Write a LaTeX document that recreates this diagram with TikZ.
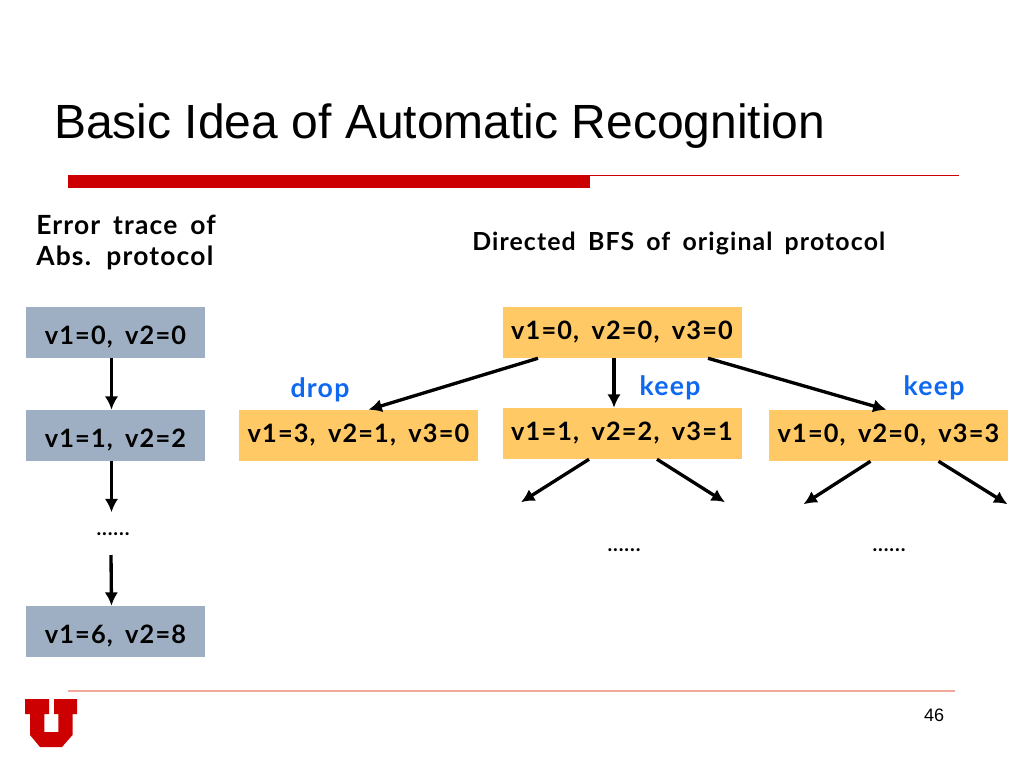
\documentclass[tikz,border=0pt]{standalone}
\usepackage{fontspec}
\setmainfont{Liberation Sans}
\newfontfamily\boxfont{Lato Bold}[LetterSpace=4.5,WordSpace=1.7]
\usetikzlibrary{calc,arrows.meta}
\definecolor{utahred}{RGB}{204, 0, 0}
\definecolor{utahpink}{RGB}{240, 170, 155}
\definecolor{tracegray}{RGB}{159, 175, 195}
\definecolor{bfsorange}{RGB}{255, 201, 102}
\definecolor{actionblue}{RGB}{15, 105, 240}
\tikzset{
  tracebox/.style={fill=tracegray, minimum width=134.25pt, minimum height=38.25pt, inner sep=0pt, text height=17.5pt, text depth=0pt, font=\boxfont\fontsize{19}{22}\selectfont},
  bfsbox/.style={fill=bfsorange, minimum width=179.25pt, minimum height=38.25pt, inner sep=0pt, font=\boxfont\fontsize{19}{22}\selectfont},
  edge/.style={-{Latex[length=10pt,width=10pt]}, line width=2.5pt},
  action/.style={text=actionblue, font=\boxfont\fontsize{20}{23}\selectfont},
  heading/.style={font=\boxfont\fontsize{19.8}{22}\selectfont, anchor=west, inner sep=0pt},
  dots/.style={font=\boxfont\fontsize{15}{18}\selectfont, inner sep=0pt}
}
\begin{document}
\begin{tikzpicture}[x=0.75pt, y=-0.75pt]
        \useasboundingbox (0,0) rectangle (1024,768);
        % title and rules
        \node[anchor=base west, inner sep=0pt, font=\fontsize{36}{40}\selectfont] (title) at (54,138) {Basic Idea of Automatic Recognition};
        \fill[utahred] (68,175) rectangle (590,188);
        \draw[utahred, line width=0.7pt] (590,175.5) -- (959,175.5);
        \draw[utahpink, line width=0.8pt] (68,691) -- (955,691);

        % headings
        \node[heading] (errora) at (36,225) {Error trace of};
        \node[heading] (errorb) at (36,258) {Abs. protocol};
        \node[heading, font=\boxfont\fontsize{18.65}{22}\selectfont] (bfshead) at (472,244) {Directed BFS of original protocol};

        % error trace
        \node[tracebox] (ta) at (115.5,332.5) {v1=0, v2=0};
        \node[tracebox] (tb) at (115.5,435.5) {v1=1, v2=2};
        \node[dots] (tdots) at (113,534) {......};
        \node[tracebox] (tc) at (115.5,631.5) {v1=6, v2=8};
        \draw[edge] ($(ta.south)+(-4,0)$) -- ($(tb.north)+(-4,0)$);
        \draw[edge] ($(tb.south)+(-4,0)$) -- ($(tb.south)+(-4,51)$);
        \draw[edge] ($(tdots.center)+(-2,21)$) -- ($(tc.north)+(-4,0)$);

        % BFS tree
        \node[bfsbox] (root) at (622,332.5) {v1=0, v2=0, v3=0};
        \node[bfsbox] (left) at (358.5,435.5) {v1=3, v2=1, v3=0};
        \node[bfsbox] (mid) at (622,433.5) {v1=1, v2=2, v3=1};
        \node[bfsbox] (right) at (888.5,435.5) {v1=0, v2=0, v3=3};
        \draw[edge] ($(root.south)+(-84,0)$) -- ($(left.north)+(10,0)$);
        \draw[edge] ($(root.south)+(-8,0)$) -- ($(mid.north)+(-8,0)$);
        \draw[edge] ($(root.south)+(86,0)$) -- ($(right.north)+(-2,0)$);

        % open branches
        \foreach \n/\a/\b/\c/\d in {mid/-33/-101/35/103, right/-18/-85/50/119} {
          \coordinate (\n L) at ($(\n.south)+(\b,43)$);
          \coordinate (\n R) at ($(\n.south)+(\d,43)$);
          \draw[edge] ($(\n.south)+(\a,0)$) -- (\n L);
          \draw[edge] ($(\n.south)+(\c,0)$) -- (\n R);
        }
        \node[dots] (mdots) at (624,550) {......};
        \node[dots] (rdots) at (889,550) {......};

        % actions
        \node[action] (drop) at (320,390) {drop};
        \node[action] (keepa) at (670,388) {keep};
        \node[action] (keepb) at (934,388) {keep};

        % logo
        \fill[utahred] (25,699) -- (49,699) -- (49,714) -- (44.3,714) -- (44.3,732) -- (58.3,732) -- (58.3,714) -- (54,714) -- (54,699) -- (77,699) -- (77,714) -- (72.5,714) -- (72.5,735) -- (62,747) -- (40,747) -- (30,735) -- (30,714) -- (25,714) -- cycle;
        \node[font=\fontsize{13.5}{15}\selectfont, inner sep=0pt] (page) at (934,715) {46};
      \end{tikzpicture}
\end{document}
